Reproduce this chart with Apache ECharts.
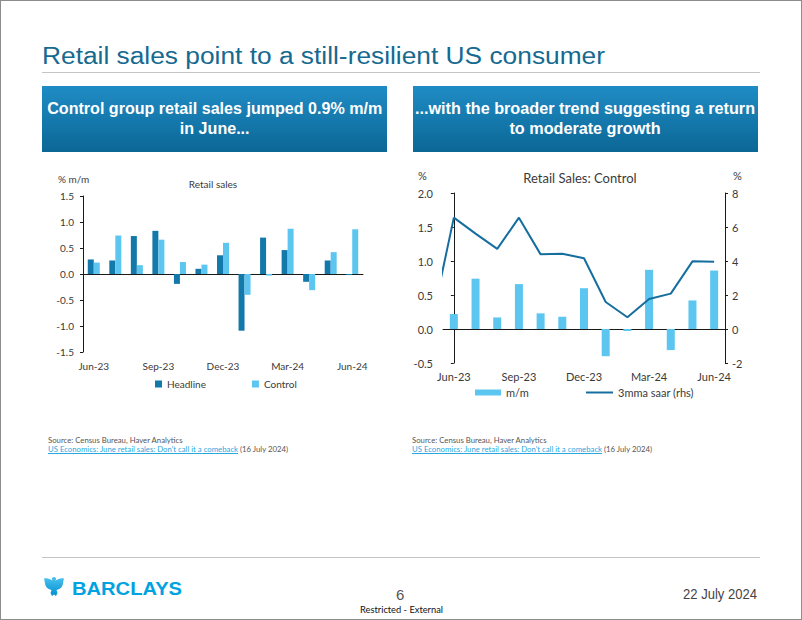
<!DOCTYPE html>
<html><head><meta charset="utf-8">
<script src="https://cdn.jsdelivr.net/npm/echarts@6/dist/echarts.min.js"></script>
<style>
html,body{margin:0;padding:0;background:#fff}
#page{position:relative;width:802px;height:620px;overflow:hidden;background:#fff}
#frame{position:absolute;left:0;top:0;width:802px;height:620px;box-sizing:border-box;border:1px solid #8c8c8c;pointer-events:none}
#chart{position:absolute;left:0;top:0;width:802px;height:620px}
.t{position:absolute;white-space:nowrap;line-height:1;transform-origin:0 0}
.rule{position:absolute;height:1px;background:#c4c4c4}
.box{position:absolute;top:86px;width:345px;height:66px;background:linear-gradient(#1f8cc5,#0c6796);display:flex;align-items:center;justify-content:center}
.box span{display:inline-block;color:#fff;font:bold 16px "Liberation Sans",Arial,sans-serif;line-height:20px;text-align:center;white-space:nowrap;transform-origin:50% 50%}
.src{position:absolute;font:8px Lato,sans-serif;color:#555;white-space:nowrap;line-height:9px;transform-origin:0 0}
.src a{color:#2aa7df;text-decoration:underline}
</style></head>
<body>
<div id="page">
  <div id="chart"></div>
  <div class="t" data-w="563" style="left:42px;top:43px;font:23px 'Liberation Sans',Arial,sans-serif;color:#16698f">Retail sales point to a still-resilient US consumer</div>
  <div class="rule" style="left:42px;top:72px;width:718px"></div>
  <div class="box" style="left:42px"><span data-w="335">Control group retail sales jumped 0.9% m/m<br>in June...</span></div>
  <div class="box" style="left:413px"><span data-w="340">...with the broader trend suggesting a return<br>to moderate growth</span></div>
  <div class="src" data-w="240" style="left:48px;top:436px">Source: Census Bureau, Haver Analytics<br><a>US Economics: June retail sales: Don't call it a comeback</a> (16 July 2024)</div>
  <div class="src" data-w="240" style="left:412px;top:436px">Source: Census Bureau, Haver Analytics<br><a>US Economics: June retail sales: Don't call it a comeback</a> (16 July 2024)</div>
  <div class="rule" style="left:42px;top:557px;width:718px"></div>
  <svg style="position:absolute;left:43px;top:576px" width="22" height="21" viewBox="0 0 22 21">
    <defs><linearGradient id="eg" x1="0" y1="0" x2="0" y2="1"><stop offset="0" stop-color="#4cc3f0"/><stop offset="1" stop-color="#0090d0"/></linearGradient></defs>
    <path fill="url(#eg)" d="M11 1 C12.5 1 13.3 2 13 3.2 L12.4 4.5 C15 3 18 1.5 21 2.5 C20 5 20.5 8 19 10.5 C18 12.5 15.5 13.5 13.5 14 L14.5 17 L13 20 L11 18.5 L9 20 L7.5 17 L8.5 14 C6.5 13.5 4 12.5 3 10.5 C1.5 8 2 5 1 2.5 C4 1.5 7 3 9.6 4.5 L9 3.2 C8.7 2 9.5 1 11 1 Z"/>
  </svg>
  <div class="t" data-w="110" style="left:72px;top:578px;font:bold 19px 'Liberation Sans',Arial,sans-serif;color:#00a3e0">BARCLAYS</div>
  <div class="t" style="left:396px;top:586px;font:15px 'Liberation Sans',Arial,sans-serif;color:#555">6</div>
  <div class="t" data-w="83" style="left:360px;top:604px;font:9px Lato,sans-serif;color:#111">Restricted - External</div>
  <div class="t" data-w="74" style="left:683px;top:585px;font:15px 'Liberation Sans',Arial,sans-serif;color:#444">22 July 2024</div>
  <div id="frame"></div>
</div>
<script>
// ---- data ----
const months = ['Jun-23','Jul-23','Aug-23','Sep-23','Oct-23','Nov-23','Dec-23','Jan-24','Feb-24','Mar-24','Apr-24','May-24','Jun-24'];
const headline = [0.28,0.26,0.73,0.83,-0.19,0.10,0.36,-1.09,0.70,0.46,-0.15,0.26,-0.02];
const control  = [0.22,0.74,0.17,0.66,0.23,0.18,0.60,-0.40,-0.03,0.87,-0.31,0.42,0.86];
const saar3mma = [6.55,5.61,4.71,6.55,4.39,4.43,4.16,1.59,0.69,1.77,2.08,3.98,3.96];
const saarPrior = 0.55; // May-23 point, lies left of the plot and is clipped
const leftTicks  = [-1.5,-1.0,-0.5,0.0,0.5,1.0,1.5];
const rightTicksL = [-0.5,0.0,0.5,1.0,1.5,2.0];
const rightTicksR = [-2,0,2,4,6,8];

// ---- fit text widths ----
document.querySelectorAll('[data-w]').forEach(el => {
  const w = el.getBoundingClientRect().width;
  el.style.transform = 'scaleX(' + (parseFloat(el.dataset.w) / w) + ')';
});

const FONT = 'Lato';
const TXT = '#3a3a3a';
const AX = '#1a1a1a';
const cHead = '#1378aa', cCtrl = '#5cc6f1', cLine = '#166e9e';

const rng = t => ({min: t[0], max: t[t.length-1], interval: +(t[1]-t[0]).toFixed(6)});

const chart = echarts.init(document.getElementById('chart'), null, {renderer: 'svg'});
const linePts = [[-1, saarPrior]].concat(saar3mma.map((v,i) => [i, v]));

chart.setOption({
  animation: false,
  textStyle: {fontFamily: FONT},
  grid: [
    {left: 83, top: 196, width: 280, height: 156},
    {left: 443, top: 193, width: 282, height: 170}
  ],
  xAxis: [
    {type:'category', gridIndex:0, data: months, axisLine:{onZero:true, lineStyle:{color:AX}}, axisTick:{interval:2, length:3, lineStyle:{color:AX}}, axisLabel:{show:false}},
    {type:'category', gridIndex:0, data: months, position:'bottom', axisLine:{show:false, onZero:false}, axisTick:{show:false}, axisLabel:{interval:2, margin:9, fontSize:10, color:TXT, fontFamily:FONT}},
    {type:'category', gridIndex:1, data: months, axisLine:{onZero:true, lineStyle:{color:AX}}, axisTick:{interval:2, length:3, lineStyle:{color:AX}}, axisLabel:{show:false}},
    {type:'category', gridIndex:1, data: months, position:'bottom', axisLine:{show:false, onZero:false}, axisTick:{show:false}, axisLabel:{interval:2, margin:8, fontSize:11, color:TXT, fontFamily:FONT}},
    {type:'value', gridIndex:1, min:-0.5, max:months.length-0.5, show:false}
  ],
  yAxis: [
    Object.assign({type:'value', gridIndex:0, axisLine:{show:true, lineStyle:{color:AX}}, axisTick:{show:true, length:3, lineStyle:{color:AX}}, splitLine:{show:false},
      axisLabel:{margin:9, fontSize:10, color:TXT, fontFamily:FONT, formatter: v => v.toFixed(1)}}, rng(leftTicks)),
    Object.assign({type:'value', gridIndex:1, position:'left', axisLine:{show:true, lineStyle:{color:AX}}, axisTick:{show:true, length:3, lineStyle:{color:AX}}, splitLine:{show:false},
      axisLabel:{margin:10, fontSize:11, color:TXT, fontFamily:FONT, formatter: v => v.toFixed(1)}}, rng(rightTicksL)),
    Object.assign({type:'value', gridIndex:1, position:'right', axisLine:{show:true, lineStyle:{color:AX}}, axisTick:{show:true, length:3, lineStyle:{color:AX}}, splitLine:{show:false},
      axisLabel:{margin:7, fontSize:11, color:TXT, fontFamily:FONT, formatter: v => String(v)}}, rng(rightTicksR))
  ],
  legend: [
    {data:['Headline','Control'], left:155, top:379, itemWidth:7, itemHeight:7, itemGap:46, icon:'rect', padding:0,
      textStyle:{fontSize:10, color:TXT, fontFamily:FONT}},
    {data:['m/m'], left:475, top:387, itemWidth:26, itemHeight:6, icon:'rect', padding:0,
      textStyle:{fontSize:11, color:TXT, fontFamily:FONT}},
    {data:['3mma saar (rhs)'], left:586, top:387, itemWidth:27, itemHeight:2, icon:'rect', padding:0,
      textStyle:{fontSize:11, color:TXT, fontFamily:FONT}}
  ],
  graphic: [
    {type:'text', x:58, y:179, style:{text:'% m/m', font:'10px Lato', fill:TXT, align:'left', verticalAlign:'middle'}},
    {type:'text', x:213, y:184, style:{text:'Retail sales', font:'10px Lato', fill:TXT, align:'center', verticalAlign:'middle'}},
    {type:'text', x:418, y:175, style:{text:'%', font:'11px Lato', fill:TXT, align:'left', verticalAlign:'middle'}},
    {type:'text', x:733, y:175, style:{text:'%', font:'11px Lato', fill:TXT, align:'left', verticalAlign:'middle'}},
    {type:'text', x:580, y:178, style:{text:'Retail Sales: Control', font:'13px Lato', fill:TXT, align:'center', verticalAlign:'middle'}}
  ],
  series: [
    {name:'Headline', type:'bar', xAxisIndex:0, yAxisIndex:0, data: headline, barWidth:6, barGap:'0%', itemStyle:{color:cHead}},
    {name:'Control', type:'bar', xAxisIndex:0, yAxisIndex:0, data: control, barWidth:6, barGap:'0%', itemStyle:{color:cCtrl}},
    {name:'m/m', type:'bar', xAxisIndex:2, yAxisIndex:1, data: control, barWidth:8, itemStyle:{color:cCtrl}},
    {name:'3mma saar (rhs)', type:'line', xAxisIndex:4, yAxisIndex:2, data: linePts, symbol:'none', clip:true,
      lineStyle:{color:cLine, width:2}, itemStyle:{color:cLine}}
  ]
});
</script>
</body></html>
